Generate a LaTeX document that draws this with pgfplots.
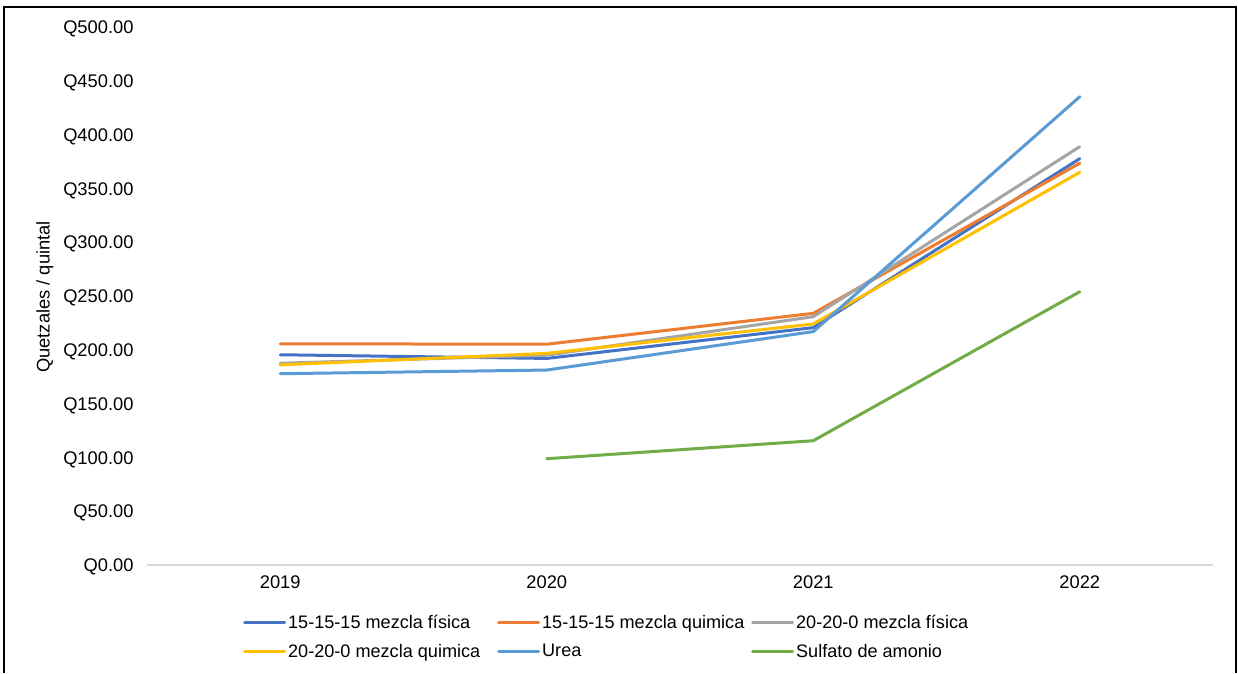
\documentclass[border=0pt]{standalone}
\usepackage{pgfplots}
\pgfplotsset{compat=1.18}
\usepackage{fontspec}
\setmainfont{Liberation Sans}

\definecolor{cBlue}{HTML}{4472C4}
\definecolor{cOrange}{HTML}{ED7D31}
\definecolor{cGray}{HTML}{A5A5A5}
\definecolor{cYellow}{HTML}{FFC000}
\definecolor{cUrea}{HTML}{5B9BD5}
\definecolor{cGreen}{HTML}{70AD47}

\newcommand{\lbl}[1]{\makebox[207pt][l]{#1}}

\begin{document}
\begin{tikzpicture}
  \useasboundingbox (0,0) rectangle (1238pt,-673pt);
  \fill[white] (0,0) rectangle (1238pt,-673pt);
  \draw[line width=2pt] (4pt,-673pt) -- (4pt,-7pt) -- (1236pt,-7pt) -- (1236pt,-673pt);
  \begin{axis}[
    at={(147pt,-565pt)}, anchor=south west,
    scale only axis, width=1066pt, height=538pt,
    xmin=2018.5, xmax=2022.5, ymin=0, ymax=500,
    axis x line=bottom, axis y line=left,
    x axis line style={draw=black!15, line width=1.2pt, -},
    y axis line style={draw=none},
    xtick={2019,2020,2021,2022}, major tick length=0pt,
    ytick={0,50,...,500},
    /pgf/number format/assume math mode=true,
    x tick label style={/pgf/number format/1000 sep={}, font=\fontsize{18.3}{21}\selectfont, yshift=-7pt},
    yticklabel={Q\pgfmathprintnumber[fixed,fixed zerofill,precision=2]{\tick}},
    y tick label style={font=\fontsize{18.3}{21}\selectfont, xshift=-10pt, yshift=-2pt},
    every axis plot/.append style={line width=3pt, line join=round, line cap=round},
    legend columns=3,
    legend cell align=left,
    legend image code/.code={\draw[#1] (0pt,0pt) -- (40pt,0pt);},
    legend style={at={(rel axis cs:0.0872,-0.0855)}, anchor=north west, draw=none, fill=none,
      font=\fontsize{18.1}{21}\selectfont, row sep=10pt, column sep=0pt,
      nodes={inner sep=2pt}},
  ]
    \addplot[cBlue] coordinates {(2019,195.4) (2020,192.0) (2021,220.6) (2022,377.7)};
    \addlegendentry{\lbl{15-15-15 mezcla física}}
    \addplot[cOrange] coordinates {(2019,205.6) (2020,205.2) (2021,233.9) (2022,373.4)};
    \addlegendentry{\lbl{15-15-15 mezcla quimica}}
    \addplot[cGray] coordinates {(2019,187.5) (2020,195.0) (2021,230.8) (2022,388.8)};
    \addlegendentry{\lbl{20-20-0 mezcla física}}
    \addplot[cYellow] coordinates {(2019,186.0) (2020,196.7) (2021,224.0) (2022,365.0)};
    \addlegendentry{\lbl{20-20-0 mezcla quimica}}
    \addplot[cUrea] coordinates {(2019,177.8) (2020,181.2) (2021,216.9) (2022,435.2)};
    \addlegendentry{\lbl{Urea}}
    \addplot[cGreen] coordinates {(2020,98.8) (2021,115.5) (2022,254.0)};
    \addlegendentry{\lbl{Sulfato de amonio}}
  \end{axis}
  \node[rotate=90, font=\fontsize{18.3}{21}\selectfont] at (45pt,-297pt) {Quetzales / quintal};
\end{tikzpicture}
\end{document}
